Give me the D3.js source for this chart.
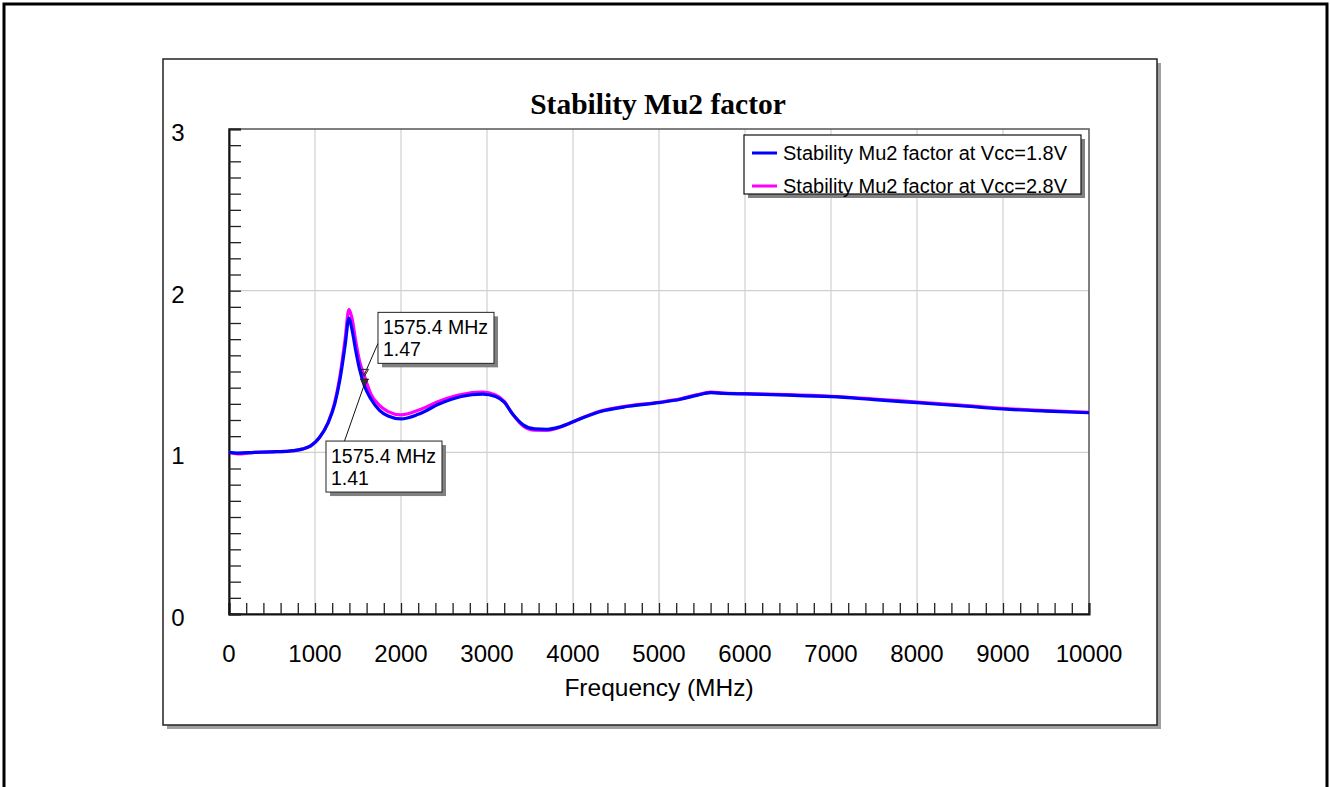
<!DOCTYPE html>
<html>
<head>
<meta charset="utf-8">
<script src="https://cdn.jsdelivr.net/npm/d3@7"></script>
<style>
  body { margin: 0; background: #fff; }
  svg { display: block; }
</style>
</head>
<body>
<div id="chart"></div>
<script>
// data
var freq = [0, 100, 300, 500, 700, 850, 950, 1050, 1150, 1230, 1290, 1350, 1395, 1430, 1470, 1520, 1575.4, 1650, 1750, 1850,
            2000, 2200, 2450, 2700, 2950, 3100, 3200, 3300, 3420, 3550, 3700, 3850, 4050, 4300, 4650, 5000, 5250, 5450,
            5600, 5750, 6000, 6500, 7000, 7500, 8000, 8500, 9000, 9500, 10000];
var mu2_18 = [1.00, 0.995, 1.000, 1.003, 1.008, 1.02, 1.04, 1.09, 1.18, 1.30, 1.45, 1.66, 1.83, 1.76, 1.64, 1.51, 1.41, 1.33, 1.26, 1.225,
              1.207, 1.235, 1.30, 1.345, 1.36, 1.345, 1.31, 1.235, 1.17, 1.145, 1.142, 1.158, 1.20, 1.25, 1.285, 1.307, 1.328, 1.354,
              1.369, 1.365, 1.361, 1.354, 1.344, 1.326, 1.307, 1.288, 1.268, 1.255, 1.245];
var mu2_28 = [1.00, 0.99, 1.000, 1.003, 1.008, 1.02, 1.04, 1.09, 1.18, 1.31, 1.47, 1.70, 1.885, 1.83, 1.70, 1.56, 1.47, 1.36, 1.29, 1.252,
              1.232, 1.26, 1.318, 1.358, 1.372, 1.355, 1.315, 1.235, 1.163, 1.137, 1.136, 1.155, 1.20, 1.252, 1.288, 1.31, 1.331, 1.357,
              1.372, 1.367, 1.363, 1.357, 1.347, 1.33, 1.311, 1.292, 1.272, 1.258, 1.248];
var seriesNames = ["Stability Mu2 factor at Vcc=1.8V", "Stability Mu2 factor at Vcc=2.8V"];
var seriesColors = ["#0000ff", "#ff00ff"];
var xTicks = [0, 1000, 2000, 3000, 4000, 5000, 6000, 7000, 8000, 9000, 10000];
var yTicks = [0, 1, 2, 3];
var markerFreq = [1575.4, 1575.4];
var markerValue = [1.47, 1.41];
var markerLabel = [["1575.4 MHz", "1.47"], ["1575.4 MHz", "1.41"]];

var W = 1330, H = 787;
var margin = {top: 129, right: 241, bottom: 173, left: 229},
    width = W - margin.left - margin.right,
    height = H - margin.top - margin.bottom;

var svg = d3.select("#chart").append("svg")
    .attr("width", W)
    .attr("height", H);

// outer page border
svg.append("rect")
    .attr("x", 4).attr("y", 4).attr("width", W - 7).attr("height", H + 20)
    .attr("fill", "none").attr("stroke", "#000").attr("stroke-width", 3);

// chart frame with shadow
svg.append("rect")
    .attr("x", 167).attr("y", 63).attr("width", 994).attr("height", 666)
    .attr("fill", "#a0a0a0");
svg.append("rect")
    .attr("x", 163).attr("y", 59).attr("width", 994).attr("height", 666)
    .attr("fill", "#fff").attr("stroke", "#222").attr("stroke-width", 1.5);

var font = "'Liberation Sans', Arial, sans-serif";

svg.append("text")
    .attr("x", 658).attr("y", 114)
    .attr("text-anchor", "middle")
    .style("font-family", "'Liberation Serif', 'Times New Roman', serif")
    .style("font-weight", "bold")
    .style("font-size", "29.5px")
    .text("Stability Mu2 factor");

var g = svg.append("g")
    .attr("transform", "translate(" + margin.left + "," + margin.top + ")");

var x = d3.scaleLinear().domain([0, 10000]).range([0, width]);
var y = d3.scaleLinear().domain([0, 3]).range([height, 0]);

// grid
g.append("g").selectAll("line")
    .data(xTicks.filter(function(d) { return d > 0 && d < 10000; }))
    .enter().append("line")
    .attr("x1", function(d) { return x(d); }).attr("x2", function(d) { return x(d); })
    .attr("y1", 0).attr("y2", height)
    .attr("stroke", "#d0d0d0").attr("stroke-width", 1.2);
g.append("g").selectAll("line")
    .data(yTicks.filter(function(d) { return d > 0 && d < 3; }))
    .enter().append("line")
    .attr("x1", 0).attr("x2", width)
    .attr("y1", function(d) { return y(d); }).attr("y2", function(d) { return y(d); })
    .attr("stroke", "#d0d0d0").attr("stroke-width", 1.2);

// plot border
g.append("rect")
    .attr("width", width).attr("height", height)
    .attr("fill", "none").attr("stroke", "#555").attr("stroke-width", 1.5);

// inside minor ticks
var xAxis = g.append("g")
    .attr("transform", "translate(0," + height + ")")
    .call(d3.axisTop(x).ticks(50).tickSize(11).tickFormat(""));
xAxis.select(".domain").attr("stroke", "#111").attr("stroke-width", 2);
xAxis.selectAll(".tick line").attr("stroke", "#222").attr("stroke-width", 1.3);

var yAxis = g.append("g")
    .call(d3.axisRight(y).ticks(30).tickSize(12).tickFormat(""));
yAxis.select(".domain").attr("stroke", "#111").attr("stroke-width", 2);
yAxis.selectAll(".tick line").attr("stroke", "#222").attr("stroke-width", 1.3);

// tick labels
g.append("g").selectAll("text")
    .data(xTicks).enter().append("text")
    .attr("x", function(d) { return x(d); })
    .attr("y", height + 48)
    .attr("text-anchor", "middle")
    .style("font-family", font).style("font-size", "24px")
    .text(function(d) { return d; });
g.append("g").selectAll("text")
    .data(yTicks).enter().append("text")
    .attr("x", -51)
    .attr("y", function(d) { return y(d) + 12; })
    .attr("text-anchor", "middle")
    .style("font-family", font).style("font-size", "24px")
    .text(function(d) { return d; });

g.append("text")
    .attr("x", width / 2 + 0).attr("y", height + 82)
    .attr("text-anchor", "middle")
    .style("font-family", font).style("font-size", "24.5px")
    .text("Frequency (MHz)");

// curves
var line = d3.line()
    .x(function(d) { return x(d[0]); })
    .y(function(d) { return y(d[1]); })
    .curve(d3.curveMonotoneX);

var series = [mu2_28, mu2_18];
var seriesColorOrder = [seriesColors[1], seriesColors[0]];
series.forEach(function(vals, i) {
    g.append("path")
        .datum(freq.map(function(f, j) { return [f, vals[j]]; }))
        .attr("fill", "none")
        .attr("stroke", seriesColorOrder[i])
        .attr("stroke-width", 3.2)
        .attr("d", line);
});

// legend
var leg = svg.append("g").attr("transform", "translate(744,135)");
leg.append("rect").attr("x", 4).attr("y", 4).attr("width", 337).attr("height", 59).attr("fill", "#808080");
leg.append("rect").attr("width", 337).attr("height", 59)
    .attr("fill", "#fff").attr("stroke", "#111").attr("stroke-width", 1.2);
seriesNames.forEach(function(name, i) {
    var yy = 18 + i * 33;
    leg.append("line")
        .attr("x1", 8).attr("x2", 33).attr("y1", yy).attr("y2", yy)
        .attr("stroke", seriesColors[i]).attr("stroke-width", 3);
    leg.append("text")
        .attr("x", 39).attr("y", yy + 7)
        .style("font-family", font).style("font-size", "20px")
        .text(name);
});

// markers with callouts
var boxOffset = [[13.5, -64, 0, 31], [-38.5, 55, 18.5, 0]];
markerFreq.forEach(function(f, i) {
    var px = x(f), py = y(markerValue[i]);
    var bx = px + boxOffset[i][0], by = py + boxOffset[i][1];
    var lx = bx + boxOffset[i][2], ly = by + boxOffset[i][3];
    g.append("line")
        .attr("x1", lx).attr("y1", ly).attr("x2", px).attr("y2", py - 2)
        .attr("stroke", "#111").attr("stroke-width", 1);
    g.append("path")
        .attr("d", "M" + (px - 4) + "," + (py - 7) + "L" + (px + 4) + "," + (py - 7) + "L" + px + "," + (py) + "Z")
        .attr("fill", i === 0 ? "none" : "#333")
        .attr("stroke", "#222").attr("stroke-width", 1);
    g.append("rect").attr("x", bx + 4).attr("y", by + 4).attr("width", 116).attr("height", 51).attr("fill", "#808080");
    g.append("rect").attr("x", bx).attr("y", by).attr("width", 116).attr("height", 51)
        .attr("fill", "#fff").attr("stroke", "#222").attr("stroke-width", 1);
    markerLabel[i].forEach(function(t, k) {
        g.append("text")
            .attr("x", bx + 5).attr("y", by + 22 + k * 22)
            .style("font-family", font).style("font-size", "19.5px")
            .text(t);
    });
});
</script>
</body>
</html>
